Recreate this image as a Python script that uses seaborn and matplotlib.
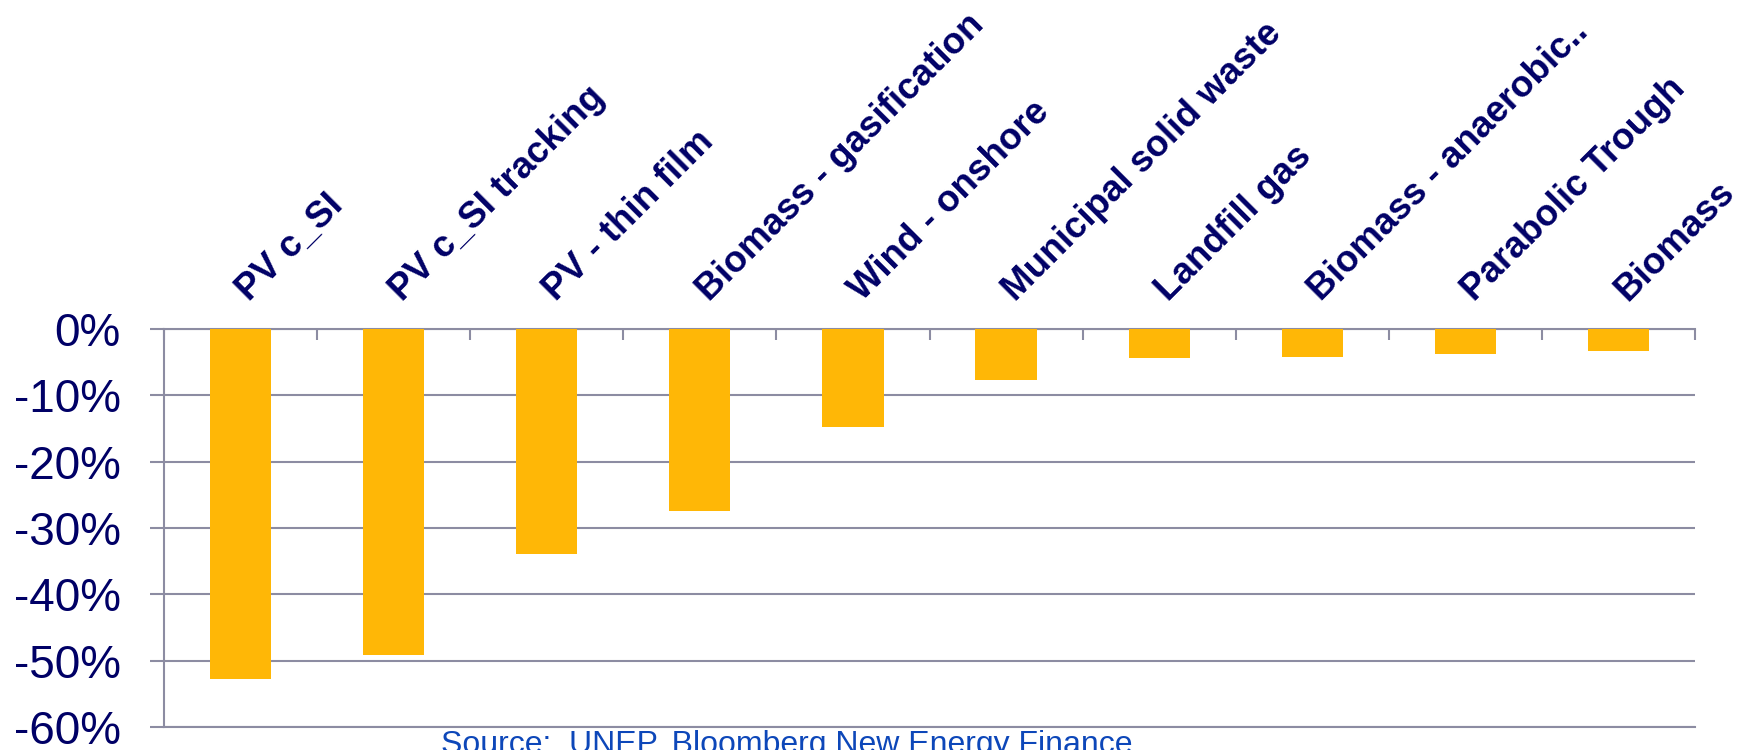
import matplotlib
matplotlib.use('Agg')
import matplotlib.pyplot as plt
from matplotlib.ticker import FixedLocator, FuncFormatter
from matplotlib.transforms import ScaledTranslation
import seaborn as sns

# change in levelised cost, %
technologies = ['PV c_SI', 'PV c_SI tracking', 'PV - thin film', 'Biomass - gasification',
                'Wind - onshore', 'Municipal solid waste', 'Landfill gas',
                'Biomass - anaerobic..', 'Parabolic Trough', 'Biomass']
change_pct = [-52.7, -49.2, -33.9, -27.5, -14.7, -7.7, -4.4, -4.2, -3.75, -3.3]
y_ticks = [0, -10, -20, -30, -40, -50, -60]
source_note = 'Source:  UNEP, Bloomberg New Energy Finance'

sns.set_style('white')
plt.rcParams['font.family'] = ['Liberation Sans', 'DejaVu Sans']

navy = '#000066'
grid_col = '#8C8CA2'
bar_col = '#FFB706'

fig = plt.figure(figsize=(17.43, 7.5), dpi=100)
ax = fig.add_axes([164 / 1743, 1 - 727 / 750, (1695 - 164) / 1743, (727 - 329) / 750])

sns.barplot(x=technologies, y=change_pct, color=bar_col, width=0.4,
            saturation=1, edgecolor='none', ax=ax, zorder=3)

ax.set_xlim(-0.5, len(technologies) - 0.5)
ax.set_ylim(-60, 0)
ax.set_yticks(y_ticks)
ax.yaxis.set_major_formatter(FuncFormatter(lambda v, p: f'{int(round(v))}%'))
ax.yaxis.grid(True, color=grid_col, linewidth=1.5, zorder=0)
ax.set_axisbelow(True)

for side in ['top', 'left', 'bottom']:
    ax.spines[side].set_color(grid_col)
    ax.spines[side].set_linewidth(1.5)
ax.spines['right'].set_visible(False)

# category labels on top, slanted
ax.xaxis.set_ticks_position('top')
ax.xaxis.set_minor_locator(FixedLocator([i - 0.5 for i in range(len(technologies) + 1)]))
ax.tick_params(axis='x', which='major', length=0, pad=19.5, labelsize=26.5,
               labelcolor=navy, top=True, bottom=False, labeltop=True, labelbottom=False)
ax.tick_params(axis='x', which='minor', direction='in', length=8, width=1.5,
               color=grid_col, top=True, bottom=False)
shift = ScaledTranslation(9 / 100, 0, fig.dpi_scale_trans)
for lbl in ax.get_xticklabels():
    lbl.set_rotation(45)
    lbl.set_ha('left')
    lbl.set_va('baseline')
    lbl.set_rotation_mode('anchor')
    lbl.set_fontweight('bold')
    lbl.set_transform(lbl.get_transform() + shift)

ax.tick_params(axis='y', which='major', direction='out', length=10, width=1.5,
               color=grid_col, pad=21, labelsize=33, labelcolor=navy, left=True)
ax.set_xlabel('')
ax.set_ylabel('')

fig.text(441 / 1743, -3 / 750, source_note, fontsize=23, color='#0D47B9',
         ha='left', va='baseline')

fig.savefig('out.png', dpi=100)
